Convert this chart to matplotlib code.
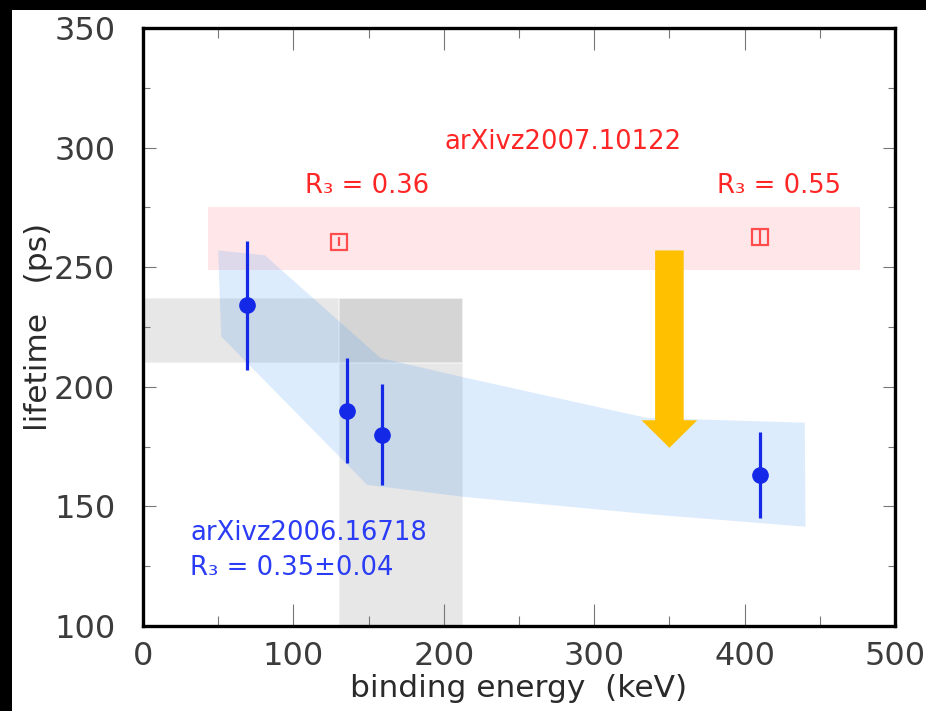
import matplotlib
matplotlib.use("Agg")
import matplotlib.pyplot as plt
from matplotlib.patches import Rectangle, Polygon, FancyArrow

plt.rcParams['font.family'] = ['DejaVu Sans']

# measured lifetimes (blue points)
blue_energy = [69, 135.5, 159, 410]
blue_lifetime = [234, 190, 180, 163]
blue_err = [27, 22, 21, 18]

# predicted lifetimes (red squares)
red_energy = [130, 410]
red_lifetime = [260.7, 262.8]
red_err = [2.0, 3.3]

# model band (upper and lower edge)
band_upper_energy = [50, 81, 158, 213, 335, 440]
band_upper_lifetime = [257, 255, 212, 204, 187, 185]
band_lower_energy = [52, 149, 171, 213, 337, 440.5]
band_lower_lifetime = [221, 159, 157.3, 154, 146.7, 141.5]

# shaded ranges
pink_energy = (43, 477)
pink_lifetime = (249, 275)
gray_h_energy = (0, 213)
gray_h_lifetime = (210, 237)
gray_v_energy = (130, 213)
gray_v_lifetime = (100, 237)

# shift arrow
arrow_energy = 350
arrow_from = 257
arrow_to = 174.5

xticks = [0, 100, 200, 300, 400, 500]
yticks = [100, 150, 200, 250, 300, 350]

fig = plt.figure(figsize=(9.26, 7.11), dpi=100, facecolor='white')
ax = fig.add_axes([143 / 926, 85 / 711, 752 / 926, 598 / 711])
ax.set_xlim(0, 500)
ax.set_ylim(100, 350)

# dark frame strips along top and left
fig.patches.append(Rectangle((0, 1 - 10 / 711), 1, 10 / 711, transform=fig.transFigure,
                             facecolor='black', edgecolor='none', zorder=-1))
fig.patches.append(Rectangle((0, 0), 12 / 926, 1, transform=fig.transFigure,
                             facecolor='black', edgecolor='none', zorder=-1))

# gray ranges
for (x0, x1), (y0, y1) in [(gray_h_energy, gray_h_lifetime), (gray_v_energy, gray_v_lifetime)]:
    ax.add_patch(Rectangle((x0, y0), x1 - x0, y1 - y0, facecolor='#a0a0a0', alpha=0.25,
                           edgecolor='none', zorder=1))
    ax.add_patch(Rectangle((x0, y0), x1 - x0, y1 - y0, facecolor='none',
                           edgecolor=(1, 1, 1, 0.5), lw=1.2, zorder=1.1))

# pink range
ax.add_patch(Rectangle((pink_energy[0], pink_lifetime[0]), pink_energy[1] - pink_energy[0],
                       pink_lifetime[1] - pink_lifetime[0], facecolor='#ff1a2e', alpha=0.1,
                       edgecolor='none', zorder=1))

# model band
verts = list(zip(band_upper_energy, band_upper_lifetime)) + \
    list(zip(band_lower_energy[::-1], band_lower_lifetime[::-1]))
ax.add_patch(Polygon(verts, closed=True, facecolor=(85 / 255, 160 / 255, 240 / 255), alpha=0.2,
                     edgecolor='none', zorder=2))

# arrow
ax.add_patch(FancyArrow(arrow_energy, arrow_from, 0, arrow_to - arrow_from, width=19,
                        head_width=37, head_length=11.5, length_includes_head=True,
                        facecolor='#ffc000', edgecolor='none', zorder=3))

# data
ax.errorbar(blue_energy, blue_lifetime, yerr=blue_err, fmt='o', color='#1428e8',
            ms=11, elinewidth=2.3, capsize=0, zorder=5)
ax.errorbar(red_energy, red_lifetime, yerr=red_err, fmt='s', mfc='none', mec='#ff4d4d',
            ecolor='#ff4d4d', ms=11.5, mew=1.6, elinewidth=1.6, capsize=0, zorder=5)

# annotations
red = '#ff2626'
blue = '#2a3cf5'
fs = 18.6
ax.text(279, 302.5, 'arXivz2007.10122', color=red, fontsize=fs, ha='center', va='center')
ax.text(107.7, 284, 'R\u2083 = 0.36', color=red, fontsize=fs, ha='left', va='center')
ax.text(381.6, 284, 'R\u2083 = 0.55', color=red, fontsize=fs, ha='left', va='center')
ax.text(31.3, 139, 'arXivz2006.16718', color=blue, fontsize=fs, ha='left', va='center')
ax.text(31.3, 124.2, 'R\u2083 = 0.35\u00b10.04', color=blue, fontsize=fs,
        ha='left', va='center')

# axes styling
for s in ax.spines.values():
    s.set_linewidth(2.4)
    s.set_color('black')
ax.set_xticks(xticks)
ax.set_yticks(yticks)
ax.set_xticks(range(50, 500, 100), minor=True)
ax.set_yticks([y + 25 for y in yticks[:-1]], minor=True)
ax.tick_params(axis='x', which='major', direction='in', length=16, width=0.8, color='#777777',
               top=True, labelsize=23, labelcolor='#3c3c3c', pad=11)
ax.tick_params(axis='x', which='minor', direction='in', length=7.5, width=0.8, color='#777777',
               top=True)
ax.tick_params(axis='y', which='major', direction='in', length=9, width=0.8, color='#777777',
               right=True, labelsize=23, labelcolor='#3c3c3c', pad=20)
ax.tick_params(axis='y', which='minor', direction='in', length=5, width=0.8, color='#777777',
               right=True)

ax.set_xlabel('binding energy  (keV)', fontsize=22.5, color='#2a2a2a')
ax.set_ylabel('lifetime   (ps)', fontsize=22.5, color='#2a2a2a')
ax.xaxis.set_label_coords(0.5, -0.08)
ax.yaxis.set_label_coords(-0.12, 0.5)

fig.savefig('out.png', dpi=100, facecolor=fig.get_facecolor())
